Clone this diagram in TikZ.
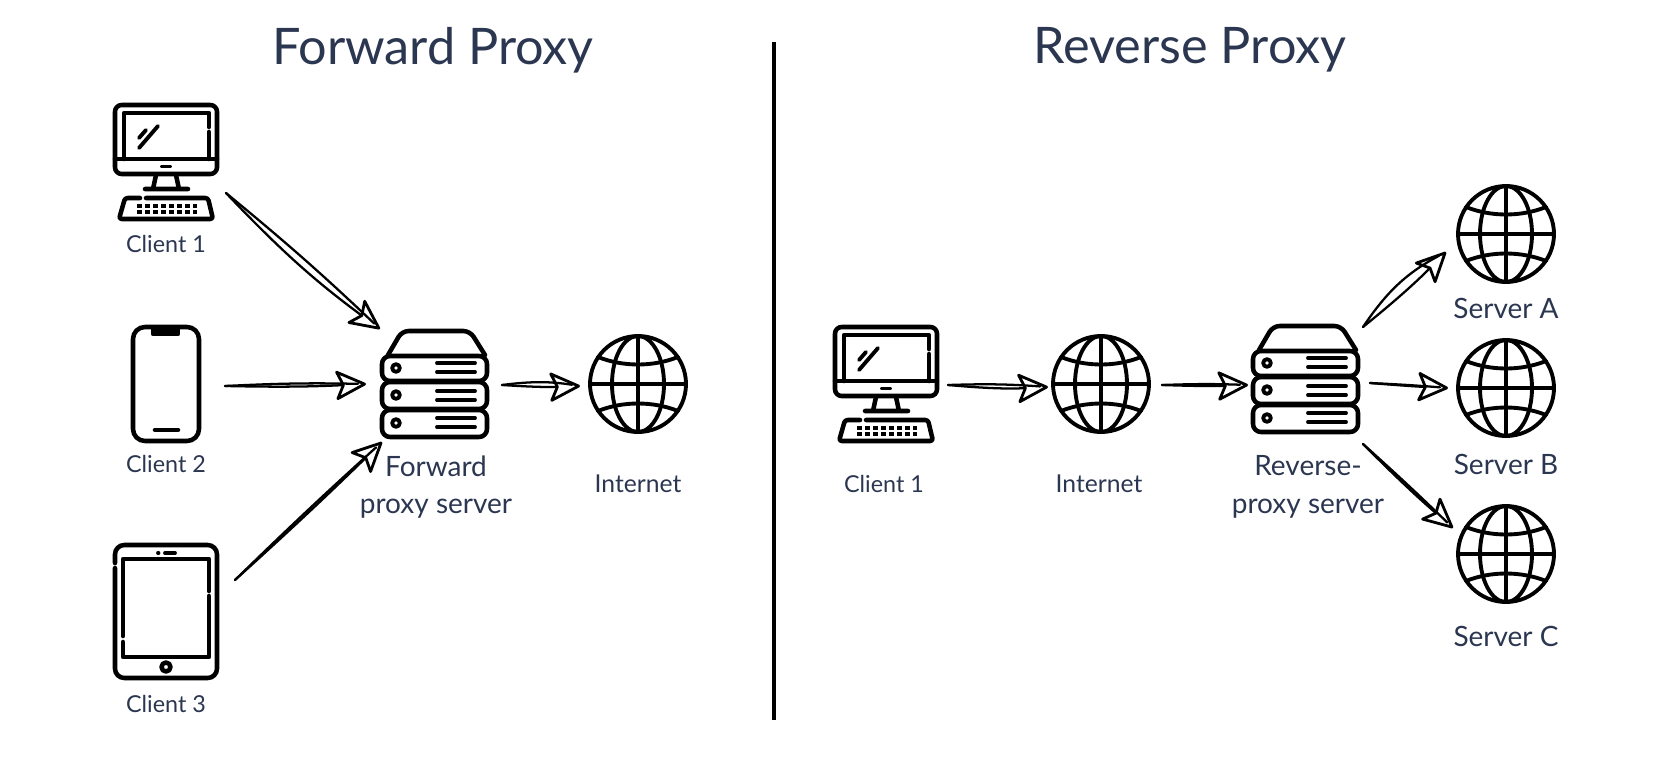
\documentclass[tikz,border=0pt]{standalone}
\usepackage{fontspec}
\setmainfont{Lato}
\usetikzlibrary{arrows.meta,calc}
\definecolor{ink}{HTML}{2B3650}
\tikzset{
  x=0.75pt,y=-0.75pt,
  icon/.style={line width=3.4pt,line cap=round,line join=round,black},
  thin icon/.style={line width=2.9pt,line cap=round,line join=round,black},
  label/.style={text=ink,font=\fontsize{21}{28}\selectfont,align=center,inner sep=0pt},
  short label/.style={label,font=\fontsize{17.5}{25}\selectfont},
  net label/.style={label,font=\fontsize{18.5}{25}\selectfont},
  title/.style={text=ink,font=\fontsize{37.8}{44}\selectfont,inner sep=0pt},
  stroke/.style={line width=1.7pt,line cap=round,black},
  head/.style={-{Stealth[open,length=25pt,width=24pt,inset=5.5pt,line width=2.1pt,round]}},
  monitor/.pic={
    \draw[icon,rounded corners=5pt] (115,159)--(115,105)--(217,105)--(217,174)--(115,174)--cycle;
    \draw[icon] (115,159)--(217,159);
    \draw[icon] (209,127)--(209,113)--(124,113)--(124,159);
    \draw[icon] (209,132)--(209,159);
    \draw[thin icon] (162,166.5)--(170,166.5);
    \draw[icon] (156,175)--(153,189) (176,175)--(179,189) (145,189)--(188,189);
    \draw[icon,rounded corners=2pt] (140,198)--(125,198)--(119,219)--(213,219)--(208,198)--(146,198);
    \draw[line width=2.4pt,dash pattern=on 3.6pt off 2.4pt] (137,206)--(197,206) (137,212)--(197,212);
    \draw[thin icon] (158,126)--(139,148) (146,130)--(139,138);
  },
  phone/.pic={
    \draw[icon,rounded corners=9pt] (133,327) rectangle (199,441);
    \draw[icon,fill=black] (153,329)--(178,329)--(178,334)--(153,334)--cycle;
    \draw[icon] (155,430)--(178,430);
  },
  tablet/.pic={
    \draw[icon,rounded corners=7pt] (115,563)--(115,545)--(217,545)--(217,678)--(115,678)--(115,568);
    \draw[icon] (123,636)--(123,559)--(209,559)--(209,591);
    \draw[icon] (123,642)--(123,657)--(209,657)--(209,596);
    \draw[thin icon] (158,553)--(158.5,553) (165,553)--(175,553);
    \draw[icon] (166,667) circle[radius=4.5];
  },
  server/.pic={
    \draw[icon,rounded corners=5pt] (388,355)--(402,331)--(470,331)--(485,355);
    \draw[icon,rounded corners=6pt] (382,356) rectangle (487,381);
    \draw[icon,rounded corners=6pt] (382,382) rectangle (487,409);
    \draw[icon,rounded corners=6pt] (382,410) rectangle (487,437);
    \foreach \yy in {368,395,423}{\draw[thin icon] (396,\yy) circle[radius=3.8];}
    \foreach \yy in {363,372,391,400,418,427}{\draw[thin icon] (437,\yy)--(475,\yy);}
  },
  globe/.pic={
    \draw[thin icon] (0,0) circle[radius=48];
    \draw[thin icon] (0,0) ellipse[x radius=26,y radius=48];
    \draw[thin icon] (-48,0)--(48,0) (0,-48)--(0,48);
    \draw[thin icon] (-40,-27) .. controls (-15,-17) and (15,-17) .. (40,-27);
    \draw[thin icon] (-40,27) .. controls (-15,17) and (15,17) .. (40,27);
  },
}
\newcommand{\leaf}[4]{%
  \draw[stroke,shorten >=6pt] (#1) to[bend left=#3] (#2);
  \draw[stroke,head] (#1) to[bend right=#4] (#2);}
\begin{document}
\begin{tikzpicture}
\useasboundingbox (0,0) rectangle (1678,760);
% titles and divider
\node[title] (t1) at (433,50) {Forward Proxy};
\node[title] (t2) at (1190,50) {Reverse Proxy};
\coordinate (d1) at (774,42);
\coordinate (d2) at (774,720);
\draw[line width=3.2pt,black] (d1)--(d2);
% left panel
\path (0,0) pic {monitor};
\path (0,0) pic {phone};
\path (0,0) pic {tablet};
\path (0,0) pic {server};
\path (638,384) pic {globe};
% right panel
\path (720,222) pic {monitor};
\path (871,-5) pic {server};
\path (1101,384) pic {globe};
\path (1506,234) pic {globe};
\path (1506,388) pic {globe};
\path (1506,554) pic {globe};
% labels
\node[short label] (c1) at (166,244) {Client 1};
\node[short label] (c2) at (166,464) {Client 2};
\node[short label] (c3) at (166,704) {Client 3};
\node[label] (fp) at (436,487) {Forward\\proxy server};
\node[net label] (in1) at (638,484) {Internet};
\node[short label] (c4) at (884,484) {Client 1};
\node[net label] (in2) at (1099,484) {Internet};
\node[label] (rp) at (1308,487) {Reverse-\\proxy server};
\node[label] (sa) at (1506,308) {Server A};
\node[label] (sb) at (1506,464) {Server B};
\node[label] (sc) at (1506,636) {Server C};
% connector ends
\coordinate (a1) at (226,193);  \coordinate (b1) at (380,329);
\coordinate (a2) at (225,386);  \coordinate (b2) at (366,384);
\coordinate (a3) at (235,580);  \coordinate (b3) at (382,442);
\coordinate (a4) at (502,385);  \coordinate (b4) at (580,386);
\coordinate (a5) at (948,385);  \coordinate (b5) at (1048,387);
\coordinate (a6) at (1162,385); \coordinate (b6) at (1248,385);
\coordinate (a7) at (1363,327); \coordinate (b7) at (1446,252);
\coordinate (a8) at (1370,383); \coordinate (b8) at (1448,388);
\coordinate (a9) at (1363,444); \coordinate (b9) at (1453,528);
\leaf{a1}{b1}{2}{5}
\leaf{a2}{b2}{2}{2}
\leaf{a3}{b3}{1}{1}
\leaf{a4}{b4}{8}{3}
\leaf{a5}{b5}{3}{4}
\leaf{a6}{b6}{2}{2}
\leaf{a7}{b7}{14}{3}
\leaf{a8}{b8}{1}{1}
\leaf{a9}{b9}{1}{2}
\end{tikzpicture}
\end{document}
